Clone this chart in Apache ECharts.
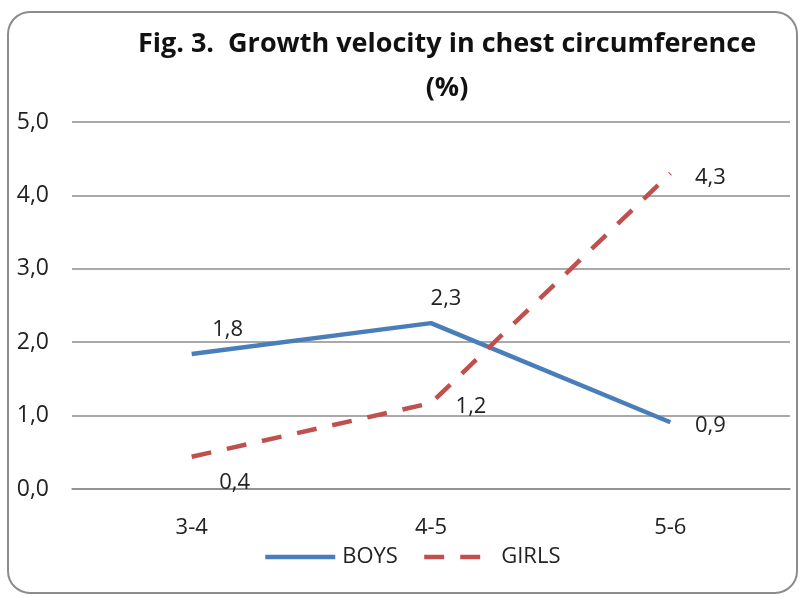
<!DOCTYPE html>
<html>
<head>
<meta charset="utf-8">
<script src="https://cdn.jsdelivr.net/npm/echarts@6/dist/echarts.min.js"></script>
<style>
  html, body { margin: 0; padding: 0; background: #fff; }
  #chart { width: 800px; height: 597px; }
</style>
</head>
<body>
<div id="chart"></div>
<script>
// age groups
const ageGroups = ["3-4", "4-5", "5-6"];
// growth velocity (%)
const boysValues = [1.84, 2.26, 0.91];
const girlsValues = [0.44, 1.17, 4.3];
const yTicks = [0, 1, 2, 3, 4, 5];

// label placement per point (style only)
const boysLabelOffset = [[36, -24], [15, -24], [40, 4]];
const girlsLabelOffset = [[43, 26], [40, 4], [40, 4]];

const fmt = (v) => v.toFixed(1).replace(".", ",");

let chart = echarts.init(document.getElementById("chart"));

function makeData(values, offsets) {
  return values.map((v, i) => ({
    value: v,
    label: { offset: offsets[i] },
  }));
}

const labelStyle = {
  show: true,
  position: "inside",
  fontSize: 22,
  color: "#222",
  formatter: (p) => fmt(p.value),
};

let option = {
  animation: false,
  textStyle: { fontFamily: "Open Sans" },
  graphic: [
    {
      type: "rect",
      shape: { x: 8, y: 12, width: 789, height: 581, r: 22 },
      style: { fill: "none", stroke: "#8c8c8c", lineWidth: 2 },
    },
  ],
  title: {
    text: "Fig. 3.  Growth velocity in chest circumference\n(%)",
    left: 442,
    top: 17,
    textAlign: "center",
    textStyle: {
      fontSize: 27,
      fontWeight: "bold",
      color: "#111",
      lineHeight: 44,
      fontFamily: "Open Sans",
    },
  },
  legend: {
    bottom: 24,
    left: 258,
    itemWidth: 70,
    itemHeight: 12,
    itemGap: 24,
    textStyle: { fontSize: 22, color: "#222", padding: [0, 0, 0, 2] },
    lineStyle: { width: 4.5 },
    data: ["BOYS", "GIRLS"],
  },
  grid: {
    left: 72,
    right: 10,
    top: 122,
    bottom: 108,
    containLabel: false,
  },
  xAxis: {
    type: "category",
    data: ageGroups,
    boundaryGap: true,
    axisLine: { lineStyle: { color: "#8c8c8c", width: 1.5 } },
    axisTick: { show: false },
    axisLabel: { fontSize: 22, color: "#222", margin: 28 },
  },
  yAxis: {
    type: "value",
    min: yTicks[0],
    max: yTicks[yTicks.length - 1],
    interval: 1,
    axisLine: { show: false },
    axisTick: { show: false },
    axisLabel: {
      fontSize: 23,
      color: "#222",
      margin: 23,
      formatter: (v) => fmt(v),
    },
    splitLine: { lineStyle: { color: "#8c8c8c", width: 1.5 } },
  },
  series: [
    {
      name: "BOYS",
      type: "line",
      data: makeData(boysValues, boysLabelOffset),
      symbol: "circle",
      symbolSize: 1,
      itemStyle: { color: "rgba(0,0,0,0)" },
      lineStyle: { width: 4.5, color: "#4a7ebb" },
      label: labelStyle,
    },
    {
      name: "GIRLS",
      type: "line",
      data: makeData(girlsValues, girlsLabelOffset),
      symbol: "circle",
      symbolSize: 1,
      itemStyle: { color: "rgba(0,0,0,0)" },
      lineStyle: { width: 4.5, color: "#c0504d", type: [20, 16] },
      label: labelStyle,
    },
  ],
};

chart.setOption(option);
</script>
</body>
</html>
